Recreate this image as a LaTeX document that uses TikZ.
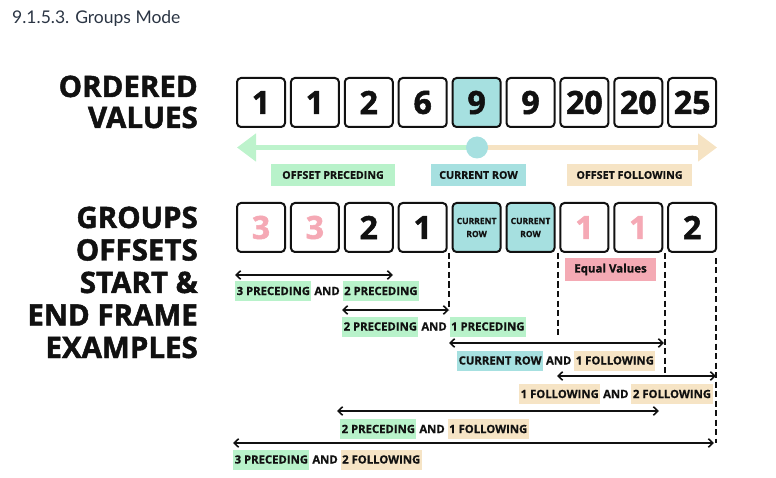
\documentclass[tikz,border=0pt]{standalone}
\usepackage{fontspec}
\setmainfont{Open Sans}[BoldFeatures={FakeBold=0.8}]
\newfontfamily\headfont{Open Sans}[BoldFeatures={FakeBold=1.6}]
\newfontfamily\latofont{Lato}
\usetikzlibrary{arrows.meta,calc}
\definecolor{hlgreen}{HTML}{B8F2CA}
\definecolor{hlteal}{HTML}{A6E0E0}
\definecolor{hlbeige}{HTML}{F6E4C5}
\definecolor{hlpink}{HTML}{F4AAB4}
\definecolor{pinktxt}{HTML}{F5A9B5}
\definecolor{arrgreen}{HTML}{BDF3CC}
\definecolor{arrbeige}{HTML}{F6E3C3}
\definecolor{titlecol}{HTML}{2B3544}
\definecolor{ink}{HTML}{111111}
\newcommand\hlpiece[2]{{\setlength\fboxsep{1.5pt}\colorbox{#1}{\rule[-4.5pt]{0pt}{17pt}#2}}}
\begin{document}
\begin{tikzpicture}[x=1pt,y=-1pt,
  valbox/.style={draw=ink, line width=2pt, rounded corners=4pt, minimum width=48pt,
    minimum height=49pt, inner sep=0pt, text=ink, fill=white,
    font=\headfont\bfseries\fontsize{32}{32}\selectfont},
  curbox/.style={valbox, fill=hlteal, align=center, font=\bfseries\fontsize{8.5}{13}\selectfont},
  pinkbox/.style={valbox, text=pinktxt},
  tag/.style={inner sep=0pt, text=ink, minimum height=22pt, font=\bfseries\fontsize{10.7}{12}\selectfont},
  arrlbl/.style={inner sep=0pt, anchor=west, text=ink, font=\bfseries\fontsize{11.3}{13}\selectfont},
  bigtitle/.style={inner sep=0pt, anchor=base east, text=ink, font=\headfont\bfseries\fontsize{29.5}{32}\selectfont},
  spanarrow/.style={{Straight Barb[length=4.5pt,width=8.5pt]}-{Straight Barb[length=4.5pt,width=8.5pt]}, line width=1.6pt, draw=ink},
  guide/.style={draw=ink, line width=1.4pt, dash pattern=on 6pt off 3.5pt}
]
\useasboundingbox (0,0) rectangle (776,478);

% title
\node[inner sep=0pt, anchor=base west, text=titlecol, font=\latofont\fontsize{17.5}{20}\selectfont] (title) at (12,24) {9.1.5.3. Groups Mode};

% left headings
\node[bigtitle] (h1) at (198,97) {ORDERED};
\node[bigtitle] (h2) at (198,128) {VALUES};
\node[bigtitle] (h3) at (198,228) {GROUPS};
\node[bigtitle] (h4) at (198,260.5) {OFFSETS};
\node[bigtitle] (h5) at (198,293) {START \&};
\node[bigtitle] (h6) at (198,325.5) {END FRAME};
\node[bigtitle] (h7) at (198,358) {EXAMPLES};

% ordered values row
\node[valbox] (v1) at (261.0,102.5) {1};
\node[valbox] (v2) at (314.9,102.5) {1};
\node[valbox] (v3) at (368.8,102.5) {2};
\node[valbox] (v4) at (422.7,102.5) {6};
\node[valbox, fill=hlteal] (v5) at (476.6,102.5) {9};
\node[valbox] (v6) at (530.5,102.5) {9};
\node[valbox] (v7) at (584.4,102.5) {20};
\node[valbox] (v8) at (638.3,102.5) {20};
\node[valbox] (v9) at (692.2,102.5) {25};

% big direction arrow
\coordinate (cc) at (477,147.5);
\coordinate (ltip) at (237,147.5);
\coordinate (rtip) at (717,147.5);
\draw[line width=5pt, arrgreen, -{Triangle[length=19pt,width=27pt]}] (cc) -- (ltip);
\draw[line width=5pt, arrbeige, -{Triangle[length=19pt,width=27pt]}] (cc) -- (rtip);
\node[circle, fill=hlteal, minimum size=22pt, inner sep=0pt] (cur) at (cc) {};

\node[tag, fill=hlgreen, minimum width=124pt] (tp) at (333,175) {OFFSET PRECEDING};
\node[tag, fill=hlteal, minimum width=95pt] (tc) at (478.5,175) {CURRENT ROW};
\node[tag, fill=hlbeige, minimum width=125pt] (tf) at (629.5,175) {OFFSET FOLLOWING};

% groups row
\node[pinkbox] (g1) at (261.0,227.5) {3};
\node[pinkbox] (g2) at (314.9,227.5) {3};
\node[valbox] (g3) at (368.8,227.5) {2};
\node[valbox] (g4) at (422.7,227.5) {1};
\node[curbox] (g5) at (476.6,227.5) {CURRENT\\ROW};
\node[curbox] (g6) at (530.5,227.5) {CURRENT\\ROW};
\node[pinkbox] (g7) at (584.4,227.5) {1};
\node[pinkbox] (g8) at (638.3,227.5) {1};
\node[valbox] (g9) at (692.2,227.5) {2};

\node[inner sep=0pt, fill=hlpink, text=ink, minimum width=91pt, minimum height=23pt,
  font=\bfseries\fontsize{11.5}{13}\selectfont] (eq) at (610.5,269.5) {Equal Values};

% range arrows
\coordinate (a1l) at (235,275);   \coordinate (a1r) at (393,275);
\coordinate (a2l) at (342,310);   \coordinate (a2r) at (449,310);
\coordinate (a3l) at (449,343);   \coordinate (a3r) at (664,343);
\coordinate (a4l) at (557,376);   \coordinate (a4r) at (716,376);
\coordinate (a5l) at (337,411);   \coordinate (a5r) at (659,411);
\coordinate (a6l) at (233,443);   \coordinate (a6r) at (714,443);

% dashed guides
\draw[guide] (449,253) -- (a2r);
\draw[guide] (558,253) -- (558,335);
\draw[guide] (665,253) -- (665,374);
\draw[guide] (716,258) -- (716,443);

\draw[spanarrow] (a1l) -- (a1r);
\draw[spanarrow] (a2l) -- (a2r);
\draw[spanarrow] (a3l) -- (a3r);
\draw[spanarrow] (a4l) -- (a4r);
\draw[spanarrow] (a5l) -- (a5r);
\draw[spanarrow] (a6l) -- (a6r);

\node[arrlbl] (l1) at (235,291) {\hlpiece{hlgreen}{3 PRECEDING} AND \hlpiece{hlgreen}{2 PRECEDING}};
\node[arrlbl] (l2) at (342,326.5) {\hlpiece{hlgreen}{2 PRECEDING} AND \hlpiece{hlgreen}{1 PRECEDING}};
\node[arrlbl] (l3) at (457,360.5) {\hlpiece{hlteal}{CURRENT ROW} AND \hlpiece{hlbeige}{1 FOLLOWING}};
\node[arrlbl] (l4) at (519,394) {\hlpiece{hlbeige}{1 FOLLOWING} AND \hlpiece{hlbeige}{2 FOLLOWING}};
\node[arrlbl] (l5) at (340,429) {\hlpiece{hlgreen}{2 PRECEDING} AND \hlpiece{hlbeige}{1 FOLLOWING}};
\node[arrlbl] (l6) at (233,459.5) {\hlpiece{hlgreen}{3 PRECEDING} AND \hlpiece{hlbeige}{2 FOLLOWING}};
\end{tikzpicture}
\end{document}
